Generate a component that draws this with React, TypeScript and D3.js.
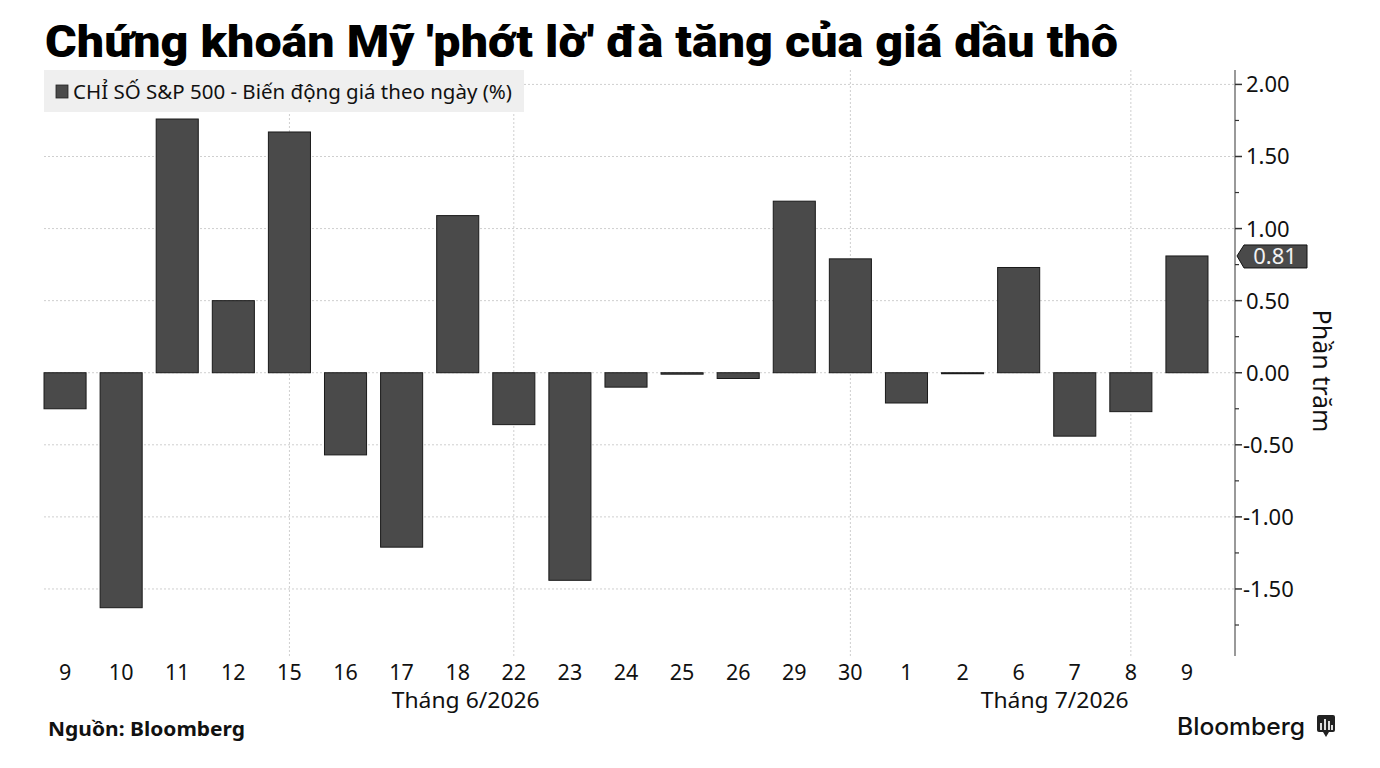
import React from "react";
import * as d3 from "d3";

const dayLabels = ["9","10","11","12","15","16","17","18","22","23","24","25","26","29","30","1","2","6","7","8","9"];
const months = ["6","6","6","6","6","6","6","6","6","6","6","6","6","6","6","7","7","7","7","7","7"];
const changes = [-0.25,-1.63,1.76,0.50,1.67,-0.57,-1.21,1.09,-0.36,-1.44,-0.10,-0.01,-0.04,1.19,0.79,-0.21,0.0,0.73,-0.44,-0.27,0.81];
const yTicks = [2.0,1.5,1.0,0.5,0.0,-0.5,-1.0,-1.5];
const minorTicks = [1.75,1.25,0.75,0.25,-0.25,-0.75,-1.25,-1.75];
const vGridAt = [4,8,14,19];
const monthLabels = ["Tháng 6/2026","Tháng 7/2026"];

const W = 1380, H = 768;
const plotTop = 70, plotBottom = 656, axisX = 1235;

export default function App() {
  const keys = dayLabels.map((d, i) => i);
  const x = d3.scaleBand<number>().domain(keys).range([37, 1215]).paddingInner(0.25).paddingOuter(0.125);
  const y = d3.scaleLinear().domain([-1.965, 2.1]).range([plotBottom, plotTop]);
  const cx = (i: number) => (x(i) as number) + x.bandwidth() / 2;
  const last = changes[changes.length - 1];
  const fmt = (v: number) => (v < 0 ? "-" + d3.format(".2f")(-v) : d3.format(".2f")(v));

  const monthGroups = ["6","7"].map((m, k) => {
    const idx = keys.filter(i => months[i] === m);
    const mid = (cx(idx[0]) + cx(idx[idx.length - 1])) / 2;
    return { label: monthLabels[k], x: mid + 8 };
  });

  const lbY = y(last);
  return (
    <svg width={W} height={H} style={{ display: "block", position: "absolute", left: 0, top: 0 }} xmlns="http://www.w3.org/2000/svg">
      <rect width={W} height={H} fill="#ffffff" />
      <text x={45} y={57} fontFamily="Roboto, 'Noto Sans', sans-serif" fontWeight={900} fontSize={45} fill="#000" textLength={1073} lengthAdjust="spacingAndGlyphs">
        Chứng khoán Mỹ 'phớt lờ' đà tăng của giá dầu thô
      </text>

      {yTicks.map(t => (
        <line key={"g" + t} x1={44} x2={axisX} y1={y(t)} y2={y(t)} stroke="#cfcfcf" strokeWidth={1} strokeDasharray="2,2" />
      ))}
      {vGridAt.map(i => (
        <line key={"v" + i} x1={cx(i)} x2={cx(i)} y1={plotTop} y2={plotBottom} stroke="#cfcfcf" strokeWidth={1} strokeDasharray="2,2" />
      ))}

      <rect x={44} y={70} width={480} height={42} fill="#efefef" />
      <rect x={56} y={85} width={12} height={13} fill="#4a4a4a" stroke="#222" strokeWidth={0.8} />
      <text x={73} y={99} fontFamily="'Noto Sans', sans-serif" fontSize={20} fill="#111" textLength={439} lengthAdjust="spacingAndGlyphs">
        CHỈ SỐ S&amp;P 500 - Biến động giá theo ngày (%)
      </text>

      {changes.map((v, i) => {
        const y0 = y(0), y1 = y(v);
        const top = Math.min(y0, y1), h = Math.max(Math.abs(y1 - y0), 1);
        return (
          <rect key={"b" + i} x={x(i)} y={top} width={x.bandwidth()} height={h} fill="#4a4a4a" stroke="#1a1a1a" strokeWidth={1} />
        );
      })}

      <line x1={axisX} x2={axisX} y1={plotTop} y2={plotBottom} stroke="#777" strokeWidth={1.5} />
      {yTicks.map(t => (
        <g key={"t" + t}>
          <line x1={axisX} x2={axisX + 7} y1={y(t)} y2={y(t)} stroke="#333" strokeWidth={1.5} />
          <text x={t < 0 ? axisX + 8 : axisX + 11} y={y(t) + 8} fontFamily="'Noto Sans', sans-serif" fontSize={22} fill="#111">
            {fmt(t)}
          </text>
        </g>
      ))}
      {minorTicks.map(t => (
        <line key={"m" + t} x1={axisX} x2={axisX + 4} y1={y(t)} y2={y(t)} stroke="#333" strokeWidth={1.2} />
      ))}

      <path d={`M ${axisX + 2} ${lbY} L ${axisX + 9} ${lbY - 11} L ${axisX + 72} ${lbY - 11} L ${axisX + 72} ${lbY + 12} L ${axisX + 9} ${lbY + 12} Z`} fill="#4a4a4a" stroke="#111" strokeWidth={1} />
      <text x={axisX + 40} y={lbY + 8} textAnchor="middle" fontFamily="'Noto Sans', sans-serif" fontSize={22} fill="#f2f2f2">
        {d3.format(".2f")(last)}
      </text>

      <text transform={`translate(1313, 371) rotate(90)`} textAnchor="middle" fontFamily="'Noto Sans', sans-serif" fontSize={25} fill="#111">
        Phần trăm
      </text>

      {dayLabels.map((d, i) => (
        <text key={"x" + i} x={cx(i)} y={680} textAnchor="middle" fontFamily="'Noto Sans', sans-serif" fontSize={21.5} fill="#111">{d}</text>
      ))}
      {monthGroups.map(m => (
        <text key={m.label} x={m.x} y={708} textAnchor="middle" fontFamily="'Noto Sans', sans-serif" fontSize={21.5} fill="#111" textLength={148} lengthAdjust="spacingAndGlyphs">{m.label}</text>
      ))}

      <text x={48} y={736} fontFamily="'Noto Sans', sans-serif" fontWeight={700} fontSize={20} fill="#111" textLength={197} lengthAdjust="spacingAndGlyphs">Nguồn: Bloomberg</text>
      <text x={1177} y={735} fontFamily="Inter, 'Noto Sans', sans-serif" fontWeight={500} fontSize={24} fill="#111" textLength={128} lengthAdjust="spacingAndGlyphs">Bloomberg</text>
      <g>
        <rect x={1317} y={715} width={18} height={17} rx={2} fill="#222" />
        <path d="M 1323 732 L 1326 737 L 1329 732 Z" fill="#222" />
        <rect x={1320} y={723} width={2} height={7} fill="#ddd" />
        <rect x={1324} y={719} width={2} height={11} fill="#ddd" />
        <rect x={1328} y={721} width={2} height={9} fill="#ddd" />
        <rect x={1331} y={725} width={2} height={5} fill="#ddd" />
      </g>
    </svg>
  );
}
